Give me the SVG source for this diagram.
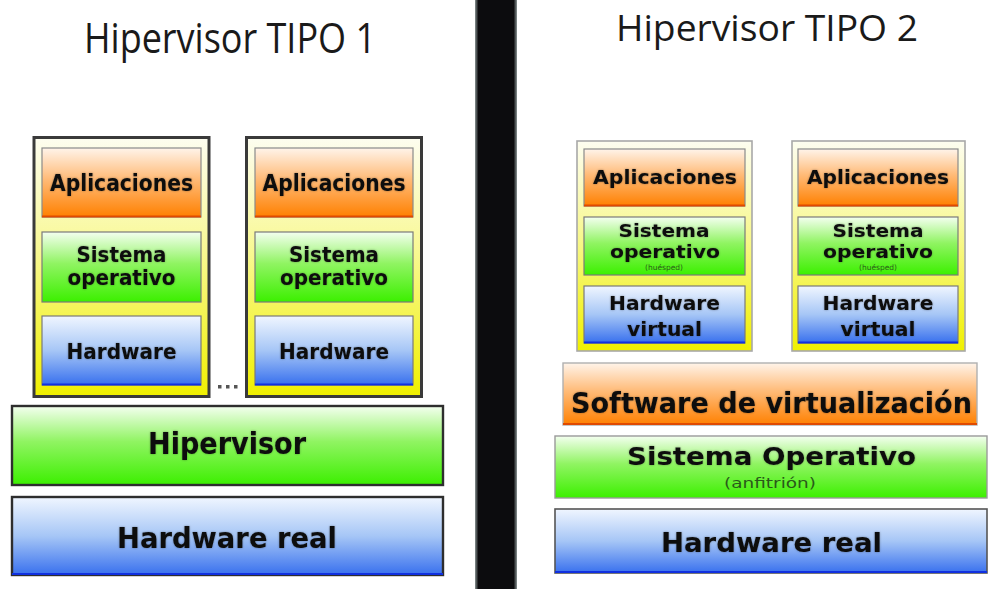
<svg xmlns="http://www.w3.org/2000/svg" width="998" height="589" viewBox="0 0 998 589">
  <defs>
    <linearGradient id="gOrange" x1="0" y1="0" x2="0" y2="1">
      <stop offset="0" stop-color="#fff4ea"/>
      <stop offset="0.45" stop-color="#ffbb78"/>
      <stop offset="1" stop-color="#ff8000"/>
    </linearGradient>
    <linearGradient id="gGreen" x1="0" y1="0" x2="0" y2="1">
      <stop offset="0" stop-color="#f4fff0"/>
      <stop offset="0.45" stop-color="#90f462"/>
      <stop offset="1" stop-color="#3cf000"/>
    </linearGradient>
    <linearGradient id="gBlue" x1="0" y1="0" x2="0" y2="1">
      <stop offset="0" stop-color="#f0f6ff"/>
      <stop offset="0.5" stop-color="#a6c6f6"/>
      <stop offset="1" stop-color="#3870ee"/>
    </linearGradient>
    <linearGradient id="gYellow" x1="0" y1="0" x2="0" y2="1">
      <stop offset="0" stop-color="#fdfdf0"/>
      <stop offset="0.45" stop-color="#f8f890"/>
      <stop offset="1" stop-color="#f0f000"/>
    </linearGradient>
    <linearGradient id="gBar" x1="0" y1="0" x2="1" y2="0">
      <stop offset="0" stop-color="#8a9494"/>
      <stop offset="0.08" stop-color="#0c0c0e"/>
      <stop offset="0.92" stop-color="#0c0c0e"/>
      <stop offset="1" stop-color="#8a9494"/>
    </linearGradient>
    <filter id="soft" x="-5%" y="-20%" width="110%" height="140%">
      <feGaussianBlur in="SourceAlpha" stdDeviation="1.2" result="b"/>
      <feFlood flood-color="#000" flood-opacity="0.35"/>
      <feComposite in2="b" operator="in" result="s"/>
      <feMerge><feMergeNode in="s"/><feMergeNode in="SourceGraphic"/></feMerge>
    </filter>
  </defs>
  <style>
    .title { font-family: "Open Sans", "Liberation Sans", sans-serif; fill: #1a1a1a; text-anchor: middle; }
    .lbl { font-family: "DejaVu Sans", "Liberation Sans", sans-serif; font-weight: bold; fill: #111; text-anchor: middle; filter: url(#soft); }
    .sub { font-family: "DejaVu Sans", "Liberation Sans", sans-serif; fill: #2a5a1a; text-anchor: middle; }
    .o { fill: url(#gOrange); stroke: #8a8a8a; stroke-width: 1.2; }
    .g { fill: url(#gGreen); stroke: #7a7a7a; stroke-width: 1.2; }
    .b { fill: url(#gBlue); stroke: #7a7a7a; stroke-width: 1.2; }
    .vm1 { fill: url(#gYellow); stroke: #3a3a3a; stroke-width: 3; }
    .vm2 { fill: url(#gYellow); stroke: #a8a8a8; stroke-width: 1.6; }
    .big { stroke: #2e2e2e; stroke-width: 2.4; }
    .edgeO { stroke: #e04a00; stroke-width: 2; }
    .edgeB { stroke: #1030e0; stroke-width: 2; }
  </style>

  <rect x="0" y="0" width="998" height="589" fill="#ffffff"/>

  <!-- separator between the two columns -->
  <rect id="divider" x="475" y="0" width="42" height="589" fill="url(#gBar)"/>

  <!-- ===== Left column: type 1 hypervisor ===== -->
  <text class="title" x="230" y="53" font-size="42" textLength="292" lengthAdjust="spacingAndGlyphs">Hipervisor TIPO 1</text>

  <g id="t1-vm1">
    <rect class="vm1" x="34" y="137.5" width="175" height="259"/>
    <rect class="o" x="42" y="148" width="159" height="69"/>
    <line class="edgeO" x1="42" y1="216.5" x2="201" y2="216.5"/>
    <text class="lbl" x="121.5" y="191" font-size="23" textLength="143" lengthAdjust="spacingAndGlyphs">Aplicaciones</text>
    <rect class="g" x="42" y="232" width="159" height="70"/>
    <text class="lbl" x="121.5" y="262" font-size="22" textLength="90" lengthAdjust="spacingAndGlyphs">Sistema</text>
    <text class="lbl" x="121.5" y="285" font-size="22" textLength="108" lengthAdjust="spacingAndGlyphs">operativo</text>
    <rect class="b" x="42" y="316" width="159" height="69"/>
    <line class="edgeB" x1="42" y1="384.5" x2="201" y2="384.5"/>
    <text class="lbl" x="121.5" y="359" font-size="22" textLength="110" lengthAdjust="spacingAndGlyphs">Hardware</text>
  </g>

  <g id="t1-vm2">
    <rect class="vm1" x="246.5" y="137.5" width="175" height="259"/>
    <rect class="o" x="255" y="148" width="158" height="69"/>
    <line class="edgeO" x1="255" y1="216.5" x2="413" y2="216.5"/>
    <text class="lbl" x="334" y="191" font-size="23" textLength="143" lengthAdjust="spacingAndGlyphs">Aplicaciones</text>
    <rect class="g" x="255" y="232" width="158" height="70"/>
    <text class="lbl" x="334" y="262" font-size="22" textLength="90" lengthAdjust="spacingAndGlyphs">Sistema</text>
    <text class="lbl" x="334" y="285" font-size="22" textLength="108" lengthAdjust="spacingAndGlyphs">operativo</text>
    <rect class="b" x="255" y="316" width="158" height="69"/>
    <line class="edgeB" x1="255" y1="384.5" x2="413" y2="384.5"/>
    <text class="lbl" x="334" y="359" font-size="22" textLength="110" lengthAdjust="spacingAndGlyphs">Hardware</text>
  </g>

  <g id="t1-more" fill="#555">
    <rect x="218" y="385" width="3.5" height="3.5"/>
    <rect x="226" y="385" width="3.5" height="3.5"/>
    <rect x="234" y="385" width="3.5" height="3.5"/>
  </g>

  <g id="t1-hypervisor">
    <rect class="big" x="12" y="406" width="431" height="79" fill="url(#gGreen)"/>
    <text class="lbl" x="227" y="454" font-size="30" textLength="158" lengthAdjust="spacingAndGlyphs">Hipervisor</text>
  </g>

  <g id="t1-hardware">
    <rect class="big" x="12" y="497" width="431" height="78" fill="url(#gBlue)"/>
    <line class="edgeB" x1="12" y1="574" x2="443" y2="574"/>
    <text class="lbl" x="227" y="548" font-size="29" textLength="220" lengthAdjust="spacingAndGlyphs">Hardware real</text>
  </g>

  <!-- ===== Right column: type 2 hypervisor ===== -->
  <text class="title" x="767" y="41" font-size="36" textLength="302" lengthAdjust="spacingAndGlyphs">Hipervisor TIPO 2</text>

  <g id="t2-vm1">
    <rect class="vm2" x="577" y="141" width="175" height="210"/>
    <rect class="o" x="584" y="149" width="161" height="57"/>
    <line class="edgeO" x1="584" y1="205.5" x2="745" y2="205.5"/>
    <text class="lbl" x="665" y="184" font-size="20" textLength="144" lengthAdjust="spacingAndGlyphs">Aplicaciones</text>
    <rect class="g" x="584" y="217" width="161" height="58"/>
    <text class="lbl" x="664" y="237" font-size="18" textLength="91" lengthAdjust="spacingAndGlyphs">Sistema</text>
    <text class="lbl" x="665" y="257.5" font-size="18" textLength="110" lengthAdjust="spacingAndGlyphs">operativo</text>
    <text class="sub" x="664" y="269.5" font-size="7.5">(huésped)</text>
    <rect class="b" x="584" y="286" width="161" height="57"/>
    <line class="edgeB" x1="584" y1="342.5" x2="745" y2="342.5"/>
    <text class="lbl" x="664.5" y="310" font-size="20" textLength="111" lengthAdjust="spacingAndGlyphs">Hardware</text>
    <text class="lbl" x="664.5" y="336" font-size="20" textLength="75" lengthAdjust="spacingAndGlyphs">virtual</text>
  </g>

  <g id="t2-vm2">
    <rect class="vm2" x="792" y="141" width="173" height="210"/>
    <rect class="o" x="798" y="149" width="160" height="57"/>
    <line class="edgeO" x1="798" y1="205.5" x2="958" y2="205.5"/>
    <text class="lbl" x="878" y="184" font-size="20" textLength="142" lengthAdjust="spacingAndGlyphs">Aplicaciones</text>
    <rect class="g" x="798" y="217" width="160" height="58"/>
    <text class="lbl" x="878" y="237" font-size="18" textLength="91" lengthAdjust="spacingAndGlyphs">Sistema</text>
    <text class="lbl" x="878" y="257.5" font-size="18" textLength="110" lengthAdjust="spacingAndGlyphs">operativo</text>
    <text class="sub" x="878" y="269.5" font-size="7.5">(huésped)</text>
    <rect class="b" x="798" y="286" width="160" height="57"/>
    <line class="edgeB" x1="798" y1="342.5" x2="958" y2="342.5"/>
    <text class="lbl" x="878" y="310" font-size="20" textLength="111" lengthAdjust="spacingAndGlyphs">Hardware</text>
    <text class="lbl" x="878" y="336" font-size="20" textLength="75" lengthAdjust="spacingAndGlyphs">virtual</text>
  </g>

  <g id="t2-software">
    <rect x="563" y="363" width="414" height="62" fill="url(#gOrange)" stroke="#b0b0b0" stroke-width="1.4"/>
    <line class="edgeO" x1="563" y1="424" x2="977" y2="424"/>
    <text class="lbl" x="771.5" y="413" font-size="28" textLength="401" lengthAdjust="spacingAndGlyphs">Software de virtualización</text>
  </g>

  <g id="t2-hostos">
    <rect x="555" y="436" width="432" height="62" fill="url(#gGreen)" stroke="#9a9a9a" stroke-width="1.4"/>
    <text class="lbl" x="771.5" y="465" font-size="25" textLength="289" lengthAdjust="spacingAndGlyphs">Sistema Operativo</text>
    <text class="sub" x="770" y="488" font-size="14" textLength="92" lengthAdjust="spacingAndGlyphs">(anfitrión)</text>
  </g>

  <g id="t2-hardware">
    <rect x="555" y="509" width="432" height="64" fill="url(#gBlue)" stroke="#555" stroke-width="1.6"/>
    <line class="edgeB" x1="555" y1="572" x2="987" y2="572"/>
    <text class="lbl" x="771.5" y="552" font-size="27" textLength="221" lengthAdjust="spacingAndGlyphs">Hardware real</text>
  </g>
</svg>
